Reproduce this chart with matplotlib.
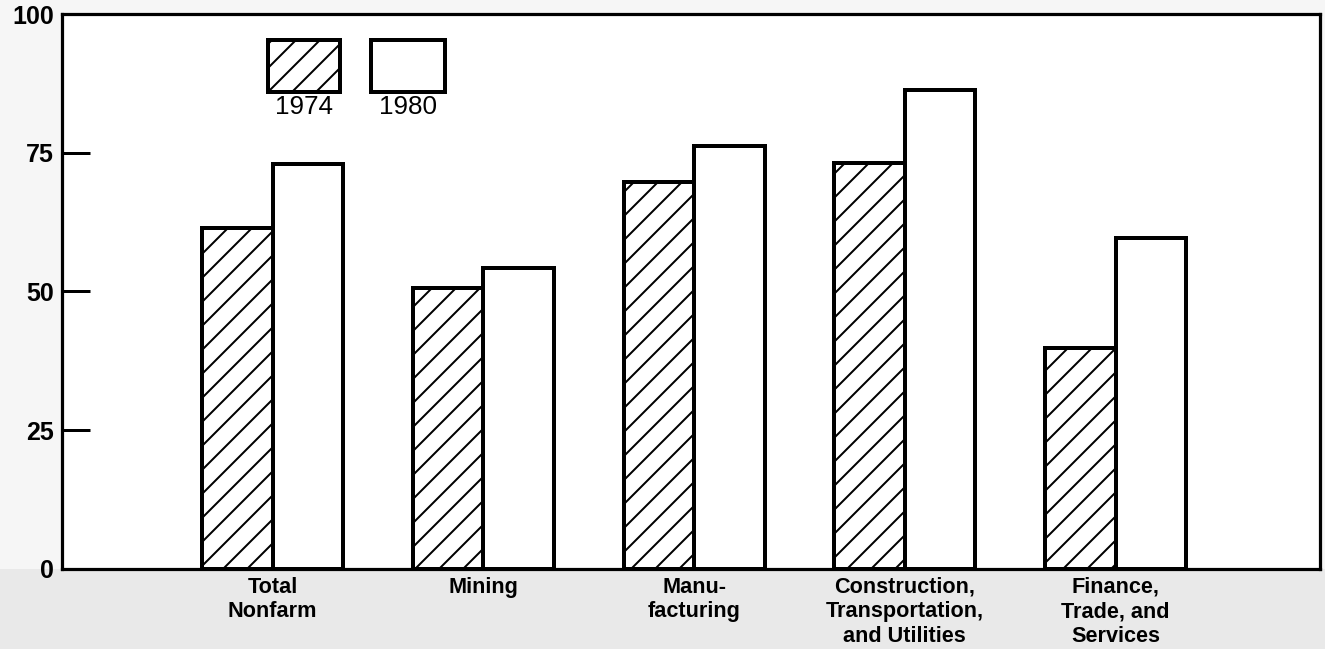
import numpy as np
import matplotlib
matplotlib.use("Agg")
import matplotlib.pyplot as plt
from matplotlib.patches import Rectangle

categories = ["Total\nNonfarm", "Mining", "Manu-\nfacturing",
              "Construction,\nTransportation,\nand Utilities",
              "Finance,\nTrade, and\nServices"]
vals_1974 = [61.4, 50.7, 69.7, 73.1, 39.9]
vals_1980 = [72.9, 54.3, 76.2, 86.3, 59.7]
series_labels = ["1974", "1980"]
yticks = [0, 25, 50, 75, 100]

plt.rcParams["font.family"] = ["Liberation Sans", "DejaVu Sans"]
plt.rcParams["hatch.linewidth"] = 1.0

DPI = 144
fig = plt.figure(figsize=(1325 / DPI, 649 / DPI), dpi=DPI, facecolor="#f6f6f6")
# halftone-ish strip under the plot
fig.patches.append(Rectangle((0, 0), 1, 0.123, transform=fig.transFigure,
                             facecolor="#e9e9e9", edgecolor="none", zorder=-5))

ax = fig.add_axes([0.0468, 0.1233, 0.9494, 0.8551])
ax.set_facecolor("white")

x = np.arange(len(categories))
w = 0.335
ax.bar(x - w / 2, vals_1974, w, facecolor="white", edgecolor="black",
       linewidth=2.0, hatch="//", zorder=3)
ax.bar(x + w / 2, vals_1980, w, facecolor="white", edgecolor="black",
       linewidth=2.0, zorder=3)

ax.set_xlim(-1.0, 4.97)
ax.set_ylim(0, 100)

for s in ax.spines.values():
    s.set_linewidth(1.6)
    s.set_zorder(4)

ax.set_yticks(yticks)
ax.set_yticklabels([str(v) for v in yticks], fontsize=12.5, fontweight="bold")
ax.tick_params(axis="y", direction="in", length=14, width=1.5, pad=4)
ax.set_xticks(x)
ax.set_xticklabels(categories, fontsize=10.8, fontweight="bold", linespacing=1.22)
ax.tick_params(axis="x", length=0, pad=4)

# legend boxes drawn in axes coordinates
ax.add_patch(Rectangle((0.1638, 0.859), 0.0572, 0.094, transform=ax.transAxes,
                       facecolor="white", edgecolor="black", linewidth=2.0,
                       hatch="//", zorder=5))
ax.add_patch(Rectangle((0.2456, 0.859), 0.0589, 0.094, transform=ax.transAxes,
                       facecolor="white", edgecolor="black", linewidth=2.0,
                       zorder=5))
ax.text(0.1924, 0.832, series_labels[0], transform=ax.transAxes, ha="center",
        va="center", fontsize=13)
ax.text(0.275, 0.832, series_labels[1], transform=ax.transAxes, ha="center",
        va="center", fontsize=13)

fig.savefig("out.png", dpi=DPI, facecolor=fig.get_facecolor())
